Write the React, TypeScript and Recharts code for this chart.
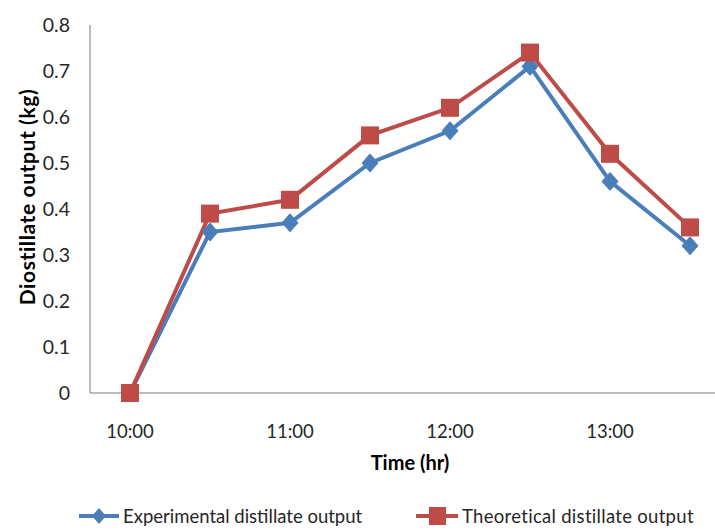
import React from "react";
import { LineChart, Line, XAxis, YAxis } from "recharts";

const times = ["10:00", "10:30", "11:00", "11:30", "12:00", "12:30", "13:00", "13:30"];
const experimental = [0, 0.35, 0.37, 0.5, 0.57, 0.71, 0.46, 0.32];
const theoretical = [0, 0.39, 0.42, 0.56, 0.62, 0.74, 0.52, 0.36];
const yTicks = [0, 0.1, 0.2, 0.3, 0.4, 0.5, 0.6, 0.7, 0.8];
const seriesNames = ["Experimental distillate output", "Theoretical distillate output"];

const data = times.map((t, i) => ({ time: t, exp: experimental[i], theo: theoretical[i] }));

const BLUE = "#4a7ebb";
const RED = "#be4b48";
const FONT = "Lato, 'Open Sans', sans-serif";
const AXIS = "#a6a6a6";

const Diamond = (props: any) => {
  const { cx, cy } = props;
  if (cx == null || cy == null) return null;
  const w = 8, h = 9;
  return (
    <polygon
      points={`${cx},${cy - h} ${cx + w},${cy} ${cx},${cy + h} ${cx - w},${cy}`}
      fill={BLUE}
      stroke={BLUE}
    />
  );
};

const Square = (props: any) => {
  const { cx, cy } = props;
  if (cx == null || cy == null) return null;
  const s = 9;
  return <rect x={cx - s} y={cy - s} width={2 * s} height={2 * s} fill={RED} />;
};

const LegendBlock = () => (
  <div style={{ position: "absolute", left: 0, top: 504, width: 715, height: 26, fontFamily: FONT, fontSize: 18.5, color: "#262626" }}>
    <div style={{ position: "absolute", left: 77, top: 0, display: "flex", alignItems: "center" }}>
      <svg width={44} height={24}>
        <line x1={2} y1={12} x2={42} y2={12} stroke={BLUE} strokeWidth={4} />
        <polygon points="22,4 29,12 22,20 15,12" fill={BLUE} />
      </svg>
      <span style={{ marginLeft: 2 }}>{seriesNames[0]}</span>
    </div>
    <div style={{ position: "absolute", left: 414, top: 0, display: "flex", alignItems: "center" }}>
      <svg width={46} height={24}>
        <line x1={2} y1={12} x2={44} y2={12} stroke={RED} strokeWidth={4} />
        <rect x={15} y={3} width={17} height={18} fill={RED} />
      </svg>
      <span style={{ marginLeft: 2, letterSpacing: 0.3 }}>{seriesNames[1]}</span>
    </div>
  </div>
);

export default function App() {
  return (
    <div style={{ position: "absolute", left: 0, top: 0, width: 715, height: 531, background: "#fff", overflow: "hidden" }}>
      <LineChart
        width={715}
        height={531}
        data={data}
        margin={{ top: 25, right: -15, left: 0, bottom: 108 }}
      >
        <XAxis
          dataKey="time"
          interval={1}
          height={30}
          padding={{ left: 40, right: 40 }}
          tickLine={false}
          tickSize={0}
          tickMargin={32}
          axisLine={{ stroke: AXIS, strokeWidth: 1.5 }}
          tick={{ fill: "#262626", fontSize: 18.5, fontFamily: FONT }}
          label={{
            content: (p: any) => {
              const vb = p.viewBox;
              return (
                <text
                  x={vb.x + vb.width / 2}
                  y={vb.y + 77}
                  textAnchor="middle"
                  fontFamily={FONT}
                  fontWeight="bold"
                  fontSize={20}
                  fill="#000"
                >
                  Time (hr)
                </text>
              );
            },
          }}
        />
        <YAxis
          width={90}
          domain={[0, 0.8]}
          ticks={yTicks}
          tickLine={false}
          tickSize={0}
          tickMargin={20}
          axisLine={{ stroke: AXIS, strokeWidth: 1.5 }}
          tick={{ fill: "#262626", fontSize: 19.5, fontFamily: FONT }}
          tickFormatter={(v: number) => (v === 0 ? "0" : String(v))}
          label={{
            content: (p: any) => {
              const vb = p.viewBox;
              const cx = 30;
              const cy = vb.y + vb.height / 2 - 12;
              return (
                <text
                  x={cx}
                  y={cy}
                  transform={`rotate(-90, ${cx}, ${cy})`}
                  textAnchor="middle"
                  dominantBaseline="middle"
                  fontFamily={FONT}
                  fontWeight="bold"
                  fontSize={21}
                  letterSpacing={0.6}
                  fill="#000"
                >
                  Diostillate output (kg)
                </text>
              );
            },
          }}
        />
        <Line
          dataKey="exp"
          name={seriesNames[0]}
          stroke={BLUE}
          strokeWidth={4}
          dot={<Diamond />}
          isAnimationActive={false}
        />
        <Line
          dataKey="theo"
          name={seriesNames[1]}
          stroke={RED}
          strokeWidth={4}
          dot={<Square />}
          isAnimationActive={false}
        />
      </LineChart>
      <LegendBlock />
    </div>
  );
}
